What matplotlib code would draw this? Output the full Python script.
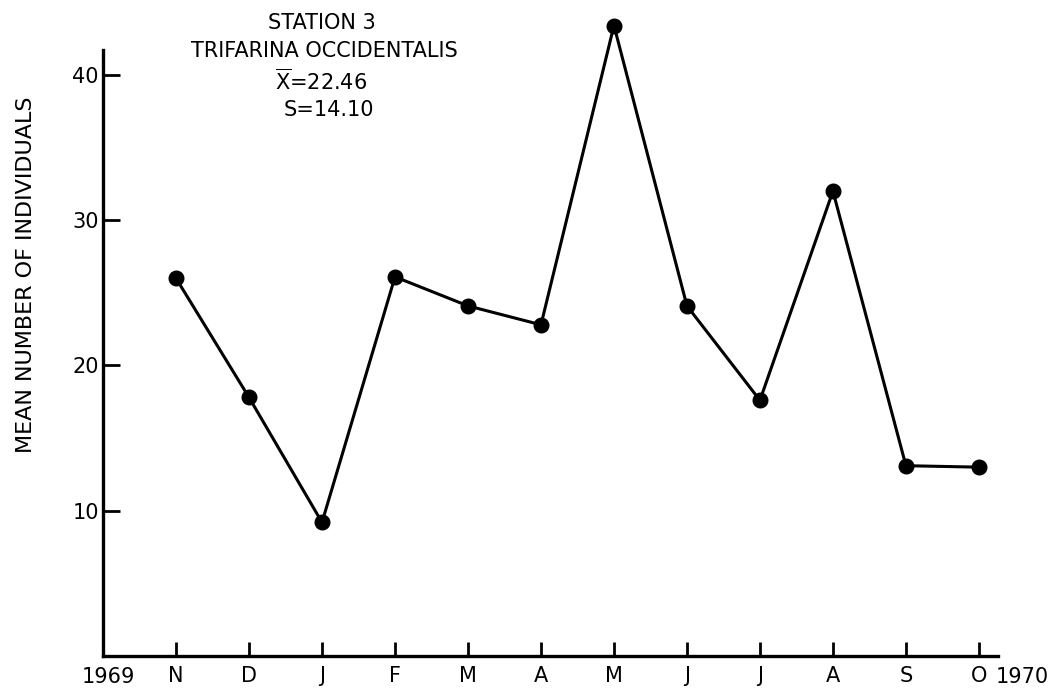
import matplotlib.pyplot as plt
import numpy as np

months = ['N', 'D', 'J', 'F', 'M', 'A', 'M', 'J', 'J', 'A', 'S', 'O']
mean_count = [26.0, 17.8, 9.2, 26.1, 24.1, 22.8, 43.4, 24.1, 17.6, 32.0, 13.1, 13.0]
yticks = [10, 20, 30, 40]

x = np.arange(1, len(months) + 1)

fig = plt.figure(figsize=(10.59, 6.88), dpi=100)
ax = fig.add_axes([0.0973, 0.0465, 0.845, 0.8805])

ax.plot(x, mean_count, color='black', linewidth=2.2, marker='o',
        markersize=10.5, clip_on=False, zorder=3)

ax.set_xlim(0, 12.26)
ax.set_ylim(0, 41.7)

ax.set_xticks(x)
ax.set_xticklabels(months)
ax.set_yticks(yticks)
ax.tick_params(axis='x', direction='in', length=10, width=2, labelsize=15, pad=7)
ax.tick_params(axis='y', direction='in', length=12, width=2, labelsize=15, pad=3)

ax.spines['right'].set_color(None)
ax.spines['top'].set_color(None)
ax.spines['left'].set_linewidth(2.4)
ax.spines['bottom'].set_linewidth(2.4)

ax.set_ylabel('MEAN NUMBER OF INDIVIDUALS', fontsize=16)
ax.yaxis.set_label_coords(-0.075, 0.629)

ax.text(0.07, -0.75, '1969', ha='center', va='top', fontsize=15)
ax.text(12.6, -0.75, '1970', ha='center', va='top', fontsize=15)

ax.text(3.0, 43.55, 'STATION 3', ha='center', va='center', fontsize=15)
ax.text(1.2, 41.65, 'TRIFARINA OCCIDENTALIS', ha='left', va='center', fontsize=15)
ax.text(2.36, 39.6, r'$\overline{\mathrm{X}}$=22.46', ha='left', va='center', fontsize=15)
ax.text(2.47, 37.6, 'S=14.10', ha='left', va='center', fontsize=15)

plt.savefig('out.png', dpi=100)
